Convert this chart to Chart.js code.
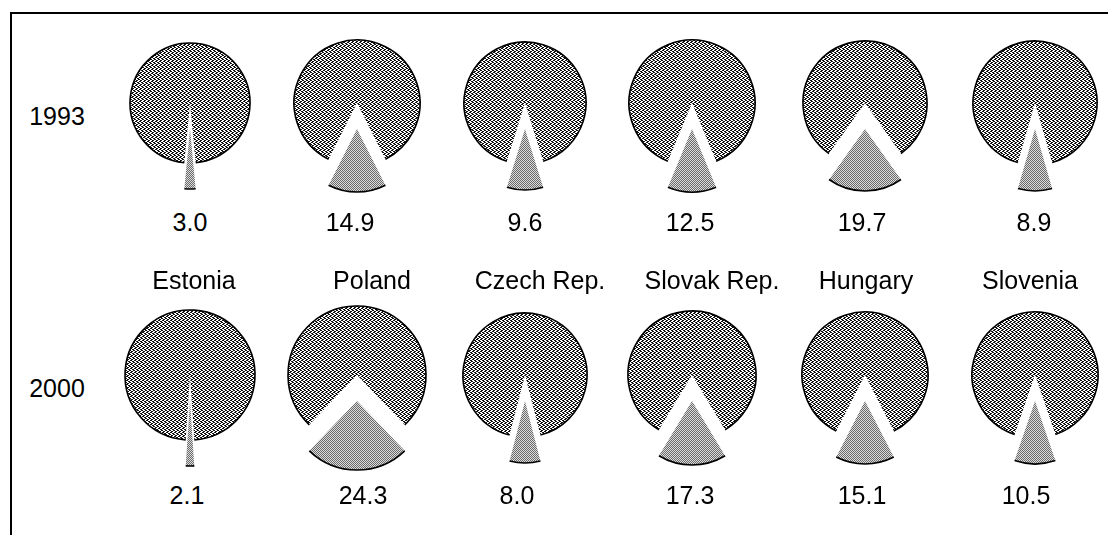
<!DOCTYPE html>
<html>
<head>
<meta charset="utf-8">
<script src="https://cdn.jsdelivr.net/npm/chart.js@4/dist/chart.umd.min.js"></script>
<style>
    html, body { margin: 0; padding: 0; background: #fff; }
    #stage { position: relative; width: 1108px; height: 535px; overflow: hidden; font-family: "Liberation Sans", Arial, sans-serif; color: #000; }
    #frame { position: absolute; left: 10px; top: 12px; width: 1200px; height: 600px; border-left: 2px solid #000; border-top: 2px solid #000; }
    .lbl { position: absolute; font-size: 25px; line-height: 1; transform: translate(-50%, -50%); white-space: nowrap; }
    canvas { position: absolute; }
</style>
</head>
<body>
<div id="stage"><div id="frame"></div></div>
<script>
    'use strict'

    // ---------------------------------------------------------------------------
    // DATA
    // ---------------------------------------------------------------------------

    const countries = ['Estonia', 'Poland', 'Czech Rep.', 'Slovak Rep.', 'Hungary', 'Slovenia']
    const years = ['1993', '2000']
    const share1993 = [3.0, 14.9, 9.6, 12.5, 19.7, 8.9]
    const share2000 = [2.1, 24.3, 8.0, 17.3, 15.1, 10.5]

    // ---------------------------------------------------------------------------
    // LAYOUT
    // ---------------------------------------------------------------------------

    const COL_X = [190, 357, 525, 692, 865, 1035]
    const ROW_Y = [103, 375]
    const RADIUS = [[60, 63, 61, 63, 62, 62], [65, 69, 62, 64, 63, 63]]
    const EXPLODE = 26
    const YEAR_X = 57
    const VALUE_X = [[190, 350, 525, 690, 862, 1034], [187, 363, 517, 690, 862, 1026]]
    const VALUE_Y = [222, 495]
    const COUNTRY_X = [194, 372, 540, 712, 866, 1030]
    const COUNTRY_Y = 280
    const stage = document.getElementById('stage')

    // ---------------------------------------------------------------------------
    // PATTERNS
    // ---------------------------------------------------------------------------

    function makePattern(rows, colors) {
        const c = document.createElement('canvas')
        c.width = rows[0].length
        c.height = rows.length
        const g = c.getContext('2d')
        rows.forEach((row, y) => {
            for (let x = 0; x < row.length; x++) {
                g.fillStyle = colors[row[x]]
                g.fillRect(x, y, 1, 1)
            }
        })
        return g.createPattern(c, 'repeat')
    }

    // dense dark stipple for the remainder, lighter checker for the share
    const bigFill = makePattern(['0011', '1100', '1001', '0110'], { 0: '#111', 1: '#fff' })
    const smallFill = makePattern(['01', '10'], { 0: '#6a6a6a', 1: '#dcdcdc' })

    // ---------------------------------------------------------------------------
    // PLUGINS
    // ---------------------------------------------------------------------------

    const explodePlugin = {
        id: 'explodeSmall',
        afterDatasetUpdate(chart, args) {
            const arc = args.meta.data[0]
            const mid = (arc.startAngle + arc.endAngle) / 2
            arc.x += Math.cos(mid) * EXPLODE
            arc.y += Math.sin(mid) * EXPLODE
        },
        afterDatasetsDraw(chart) {
            // outline only the curved edge, like the source
            const ctx = chart.ctx
            ctx.save()
            ctx.strokeStyle = '#000'
            ctx.lineWidth = 1.6
            for (const arc of chart.getDatasetMeta(0).data) {
                ctx.beginPath()
                ctx.arc(arc.x, arc.y, arc.outerRadius, arc.startAngle, arc.endAngle)
                ctx.stroke()
            }
            ctx.restore()
        },
    }

    // ---------------------------------------------------------------------------
    // RENDER
    // ---------------------------------------------------------------------------

    function addLabel(text, x, y) {
        const d = document.createElement('div')
        d.className = 'lbl'
        d.textContent = text
        d.style.left = x + 'px'
        d.style.top = y + 'px'
        stage.appendChild(d)
    }

    function drawPie(value, cx, cy, r) {
        const size = 2 * (r + EXPLODE + 6)
        const canvas = document.createElement('canvas')
        canvas.width = size
        canvas.height = size
        canvas.style.width = size + 'px'
        canvas.style.height = size + 'px'
        canvas.style.left = (cx - size / 2) + 'px'
        canvas.style.top = (cy - size / 2) + 'px'
        stage.appendChild(canvas)

        new Chart(canvas, {
            type: 'pie',
            data: {
                labels: ['share', 'rest'],
                datasets: [{
                    data: [value, 100 - value],
                    backgroundColor: [smallFill, bigFill],
                    borderWidth: 0,
                    clip: false,
                }],
            },
            options: {
                responsive: false,
                animation: false,
                events: [],
                radius: r,
                rotation: 180 - value * 1.8,
                layout: { padding: 0 },
                plugins: { legend: { display: false }, tooltip: { enabled: false } },
            },
            plugins: [explodePlugin],
        })
    }

    ;[share1993, share2000].forEach((values, row) => {
        addLabel(years[row], YEAR_X, ROW_Y[row] + 13)
        values.forEach((v, i) => {
            drawPie(v, COL_X[i], ROW_Y[row], RADIUS[row][i])
            addLabel(v.toFixed(1), VALUE_X[row][i], VALUE_Y[row])
        })
    })

    countries.forEach((name, i) => addLabel(name, COUNTRY_X[i], COUNTRY_Y))
</script>
</body>
</html>
